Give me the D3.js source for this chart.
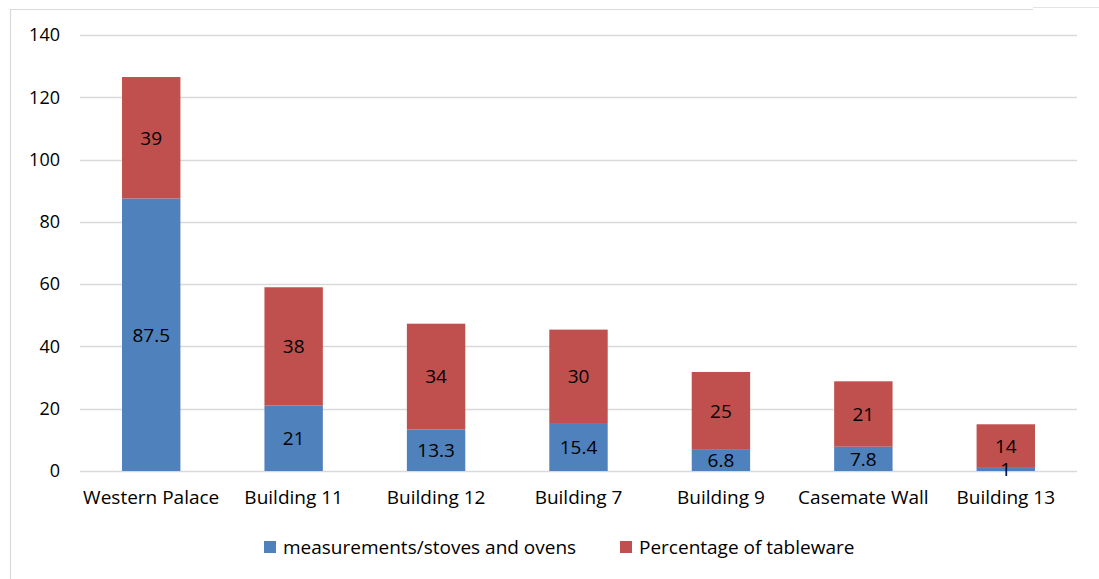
<!DOCTYPE html>
<html>
<head>
<meta charset="utf-8">
<script src="https://cdn.jsdelivr.net/npm/d3@7"></script>
<style>
  html, body { margin: 0; padding: 0; background: #fff; }
  svg { display: block; font-family: "Open Sans", "Noto Sans", sans-serif; }
</style>
</head>
<body>
<svg id="chart" width="1099" height="579"></svg>
<script>
const categories = ["Western Palace", "Building 11", "Building 12", "Building 7", "Building 9", "Casemate Wall", "Building 13"];
const stoves = [87.5, 21, 13.3, 15.4, 6.8, 7.8, 1];
const tableware = [39, 38, 34, 30, 25, 21, 14];
const yTicks = [0, 20, 40, 60, 80, 100, 120, 140];
const seriesNames = ["measurements/stoves and ovens", "Percentage of tableware"];
const colors = ["#4F81BD", "#C0504D"];

const svg = d3.select("#chart");
const margin = { left: 80, right: 22, top: 35, bottom: 108 };
const W = 1099, H = 579;
const x0 = margin.left, x1 = W - margin.right;
const yBase = H - margin.bottom, yTop = margin.top;
const fontSize = 19;

// outer frame of the chart area
svg.append("path")
  .attr("d", `M10.5,579 V9.5 H1033`)
  .attr("fill", "none").attr("stroke", "#d9d9d9").attr("stroke-width", 1.2);
svg.append("path")
  .attr("d", `M1033,7.5 H1099`)
  .attr("fill", "none").attr("stroke", "#e4e4e4").attr("stroke-width", 1.2);

const x = d3.scaleBand().domain(categories).range([x0, x1]).paddingInner(0.59).paddingOuter(0.295);
const y = d3.scaleLinear().domain([0, 140]).range([yBase, yTop]);

// gridlines
svg.append("g").selectAll("line").data(yTicks).join("line")
  .attr("x1", x0).attr("x2", x1)
  .attr("y1", d => Math.round(y(d)) + 0.5).attr("y2", d => Math.round(y(d)) + 0.5)
  .attr("stroke", "#d9d9d9").attr("stroke-width", 1.3);

// y-axis labels
const yAxis = d3.axisLeft(y).tickValues(yTicks).tickSize(0).tickPadding(0).tickFormat(d3.format("d"));
const gy = svg.append("g").attr("transform", `translate(${x0 - 20},0)`).call(yAxis);
gy.select(".domain").remove();
gy.selectAll("text").attr("font-size", 18).attr("fill", "#000").attr("font-family", "'Open Sans', sans-serif");

// x-axis labels
const xAxis = d3.axisBottom(x).tickSize(0).tickPadding(0);
const gx = svg.append("g").attr("transform", `translate(0,${yBase + 19})`).call(xAxis);
gx.select(".domain").remove();
gx.selectAll("text").attr("font-size", fontSize).attr("fill", "#000").attr("font-family", "'Open Sans', sans-serif");

// stacked bars
const rows = categories.map((c, i) => ({ cat: c, s0: stoves[i], s1: tableware[i] }));
const stack = d3.stack().keys(["s0", "s1"])(rows);

const barsG = svg.append("g");
const labelsG = svg.append("g");
stack.forEach((layer, li) => {
  barsG.append("g").selectAll("rect").data(layer).join("rect")
    .attr("x", d => x(d.data.cat))
    .attr("width", x.bandwidth())
    .attr("y", d => y(d[1]))
    .attr("height", d => y(d[0]) - y(d[1]))
    .attr("fill", colors[li]);
  labelsG.append("g").selectAll("text").data(layer).join("text")
    .attr("x", d => x(d.data.cat) + x.bandwidth() / 2)
    .attr("y", d => (y(d[0]) + y(d[1])) / 2)
    .attr("dy", "0.36em")
    .attr("text-anchor", "middle")
    .attr("font-size", fontSize)
    .attr("fill", "#000")
    .text(d => d3.format("~g")(d[1] - d[0]));
});

// legend
const legendX = [264, 620];
const lg = svg.append("g");
seriesNames.forEach((name, i) => {
  lg.append("rect").attr("x", legendX[i]).attr("y", 541).attr("width", 12).attr("height", 12).attr("fill", colors[i]);
  lg.append("text").attr("x", legendX[i] + 19).attr("y", 547).attr("dy", "0.36em")
    .attr("font-size", fontSize).attr("fill", "#000").text(name);
});
</script>
</body>
</html>
